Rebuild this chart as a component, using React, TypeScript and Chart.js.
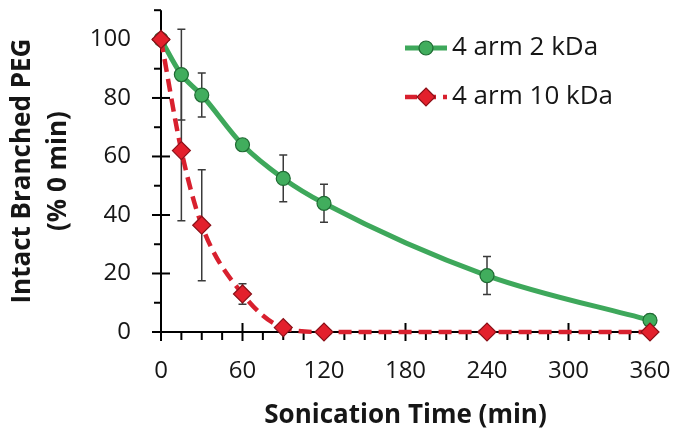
import { useEffect, useRef } from 'react';
import { Chart, registerables } from 'chart.js';

Chart.register(...registerables);

const times = [0, 15, 30, 60, 90, 120, 240, 360];
const arm2 = [100, 88, 81, 64, 52.5, 44, 19.3, 4];
const arm2Err = [0, 15.5, 7.5, 1, 8, 6.5, 6.5, 2];
const arm10 = [100, 62, 36.5, 13, 1.5, 0, 0, 0];
const arm10Err = [0, 24, 19, 3.5, 0.5, 0, 0, 0];
const seriesNames = ['4 arm 2 kDa', '4 arm 10 kDa'];
const xTitle = 'Sonication Time (min)';
const yTitle = ['Intact Branched PEG', '(% 0 min)'];

const FONT = "'Open Sans', 'DejaVu Sans', sans-serif";
const GREEN = '#3ea85b';
const GREEN_FILL = '#41ad5d';
const GREEN_EDGE = '#1f6a33';
const RED = '#d8202e';
const RED_FILL = '#e3202c';
const RED_EDGE = '#8c1119';
const TEXT = '#161616';

const axesPlugin = {
  id: 'axesAndErrors',
  beforeDatasetsDraw(chart: any) {
    const { ctx, chartArea, scales } = chart;
    const xs = scales.x;
    const ys = scales.y;
    const x0 = xs.getPixelForValue(0);
    const y0 = ys.getPixelForValue(0);
    ctx.save();
    ctx.strokeStyle = '#000';
    ctx.lineWidth = 2;
    ctx.beginPath();
    ctx.moveTo(x0, chartArea.top);
    ctx.lineTo(x0, y0);
    ctx.lineTo(xs.getPixelForValue(360), y0);
    ctx.stroke();
    for (let v = 0; v <= 110; v += 10) {
      const py = ys.getPixelForValue(v);
      const major = v % 20 === 0 && v <= 100;
      ctx.beginPath();
      ctx.moveTo(x0 - (major ? 9 : 7), py);
      ctx.lineTo(x0 + (major ? 9 : 0), py);
      ctx.stroke();
    }
    for (let v = 0; v <= 360; v += 15) {
      const px = xs.getPixelForValue(v);
      const major = v % 60 === 0;
      ctx.beginPath();
      ctx.moveTo(px, y0 - (major ? 9 : 0));
      ctx.lineTo(px, y0 + (major ? 9 : 8));
      ctx.stroke();
    }
    ctx.strokeStyle = '#3a3a3a';
    ctx.lineWidth = 1.5;
    const drawErr = (vals: number[], errs: number[]) => {
      vals.forEach((v, i) => {
        const e = errs[i];
        if (!e) return;
        const px = xs.getPixelForValue(times[i]);
        const top = ys.getPixelForValue(v + e);
        const bot = ys.getPixelForValue(Math.max(0, v - e));
        ctx.beginPath();
        ctx.moveTo(px, top);
        ctx.lineTo(px, bot);
        ctx.moveTo(px - 4, top);
        ctx.lineTo(px + 4, top);
        ctx.moveTo(px - 4, bot);
        ctx.lineTo(px + 4, bot);
        ctx.stroke();
      });
    };
    drawErr(arm2, arm2Err);
    drawErr(arm10, arm10Err);
    ctx.restore();
  },
  afterDatasetsDraw(chart: any) {
    const { ctx } = chart;
    ctx.save();
    const lx0 = 405;
    const lx1 = 447;
    const mx = 426;
    let y = 48;
    ctx.strokeStyle = GREEN;
    ctx.lineWidth = 5;
    ctx.beginPath();
    ctx.moveTo(lx0, y);
    ctx.lineTo(lx1, y);
    ctx.stroke();
    ctx.beginPath();
    ctx.arc(mx, y, 7, 0, Math.PI * 2);
    ctx.fillStyle = GREEN_FILL;
    ctx.fill();
    ctx.strokeStyle = GREEN_EDGE;
    ctx.lineWidth = 1.2;
    ctx.stroke();
    ctx.fillStyle = TEXT;
    ctx.font = `26px ${FONT}`;
    ctx.textBaseline = 'middle';
    ctx.textAlign = 'left';
    ctx.fillText(seriesNames[0], 452, y);
    y = 97;
    ctx.strokeStyle = RED;
    ctx.lineWidth = 4.5;
    ctx.setLineDash([12, 7]);
    ctx.beginPath();
    ctx.moveTo(lx0, y);
    ctx.lineTo(lx1, y);
    ctx.stroke();
    ctx.setLineDash([]);
    const r = 9;
    ctx.beginPath();
    ctx.moveTo(mx, y - r);
    ctx.lineTo(mx + r, y);
    ctx.lineTo(mx, y + r);
    ctx.lineTo(mx - r, y);
    ctx.closePath();
    ctx.fillStyle = RED_FILL;
    ctx.fill();
    ctx.strokeStyle = RED_EDGE;
    ctx.lineWidth = 1.2;
    ctx.stroke();
    ctx.fillStyle = TEXT;
    ctx.fillText(seriesNames[1], 452, y);
    ctx.restore();
  },
};

export default function App() {
  const ref = useRef<HTMLCanvasElement>(null);
  useEffect(() => {
    const chart = new Chart(ref.current as HTMLCanvasElement, {
      type: 'line',
      data: {
        datasets: [
          {
            label: seriesNames[0],
            data: times.map((t, i) => ({ x: t, y: arm2[i] })),
            borderColor: GREEN,
            borderWidth: 5,
            pointStyle: 'circle',
            pointRadius: 7,
            pointBackgroundColor: GREEN_FILL,
            pointBorderColor: GREEN_EDGE,
            pointBorderWidth: 1.2,
            cubicInterpolationMode: 'monotone',
            clip: false,
            order: 1,
          },
          {
            label: seriesNames[1],
            data: times.map((t, i) => ({ x: t, y: arm10[i] })),
            borderColor: RED,
            borderWidth: 4.5,
            borderDash: [13, 7],
            pointStyle: 'rectRot',
            pointRadius: 9,
            pointBackgroundColor: RED_FILL,
            pointBorderColor: RED_EDGE,
            pointBorderWidth: 1.2,
            cubicInterpolationMode: 'monotone',
            clip: false,
            order: 0,
          },
        ],
      },
      options: {
        responsive: false,
        animation: false,
        events: [],
        layout: { padding: { top: 7, right: 30, left: 0, bottom: 0 } },
        plugins: {
          legend: { display: false },
          tooltip: { enabled: false },
        },
        scales: {
          x: {
            type: 'linear',
            min: 0,
            max: 360,
            grid: { display: false, drawTicks: false },
            border: { display: false },
            ticks: {
              stepSize: 60,
              autoSkip: false,
              maxRotation: 0,
              padding: 25,
              color: TEXT,
              font: { family: FONT, size: 24 },
            },
            title: {
              display: true,
              text: xTitle,
              color: TEXT,
              font: { family: FONT, size: 26, weight: 'bold', lineHeight: 1.2 },
              padding: { top: 0, bottom: 6 },
            },
            afterFit: (s: any) => {
              s.height = 105;
              s.paddingLeft = 0;
              s.paddingRight = 0;
            },
          },
          y: {
            type: 'linear',
            min: 0,
            max: 110,
            grid: { display: false, drawTicks: false },
            border: { display: false },
            ticks: {
              stepSize: 10,
              autoSkip: false,
              padding: 30,
              color: TEXT,
              font: { family: FONT, size: 24 },
              callback: (v: any) => (v % 20 === 0 && v <= 100 ? String(v) : ''),
            },
            title: {
              display: true,
              text: yTitle,
              color: TEXT,
              font: { family: FONT, size: 26, weight: 'bold', lineHeight: 1.4 },
              padding: { top: 4, bottom: 0 },
            },
            afterFit: (s: any) => {
              s.width = 161;
              s.paddingTop = 0;
              s.paddingBottom = 0;
            },
          },
        },
      },
      plugins: [axesPlugin],
    } as any);
    return () => chart.destroy();
  }, []);
  return (
    <div style={{ position: 'fixed', left: 0, top: 0, width: 680, height: 437, background: '#fff' }}>
      <canvas ref={ref} width={680} height={437} style={{ display: 'block' }} />
    </div>
  );
}
